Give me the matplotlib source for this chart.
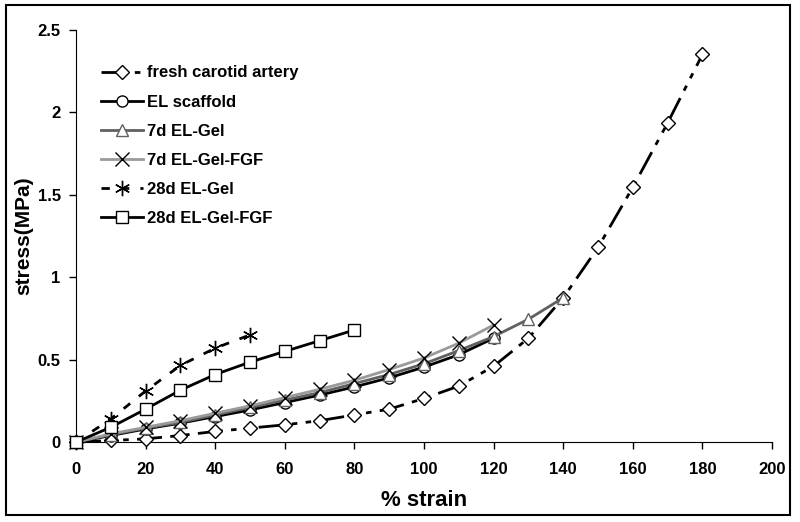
import numpy as np
import matplotlib
matplotlib.use("Agg")
import matplotlib.pyplot as plt
from matplotlib.patches import Rectangle

plt.rcParams['font.family'] = ['Liberation Sans', 'DejaVu Sans']
plt.rcParams['font.weight'] = 'bold'

# --- data ---
x_artery = np.arange(0, 190, 10)
y_artery = [0, 0.01, 0.02, 0.04, 0.065, 0.085, 0.105, 0.13, 0.165, 0.2,
            0.265, 0.34, 0.46, 0.63, 0.875, 1.18, 1.545, 1.935, 2.35]

x_el = np.arange(0, 130, 10)
y_el = [0, 0.04, 0.08, 0.115, 0.155, 0.195, 0.24, 0.285, 0.335, 0.39,
        0.455, 0.53, 0.63]

x_7d_gel = np.arange(0, 150, 10)
y_7d_gel = [0, 0.045, 0.085, 0.12, 0.165, 0.21, 0.255, 0.3, 0.355, 0.41,
            0.475, 0.555, 0.64, 0.745, 0.875]

x_7d_fgf = np.arange(0, 130, 10)
y_7d_fgf = [0, 0.05, 0.09, 0.13, 0.175, 0.22, 0.27, 0.32, 0.375, 0.44,
            0.51, 0.6, 0.71]

x_28d_gel = np.arange(0, 60, 10)
y_28d_gel = [0, 0.14, 0.31, 0.465, 0.57, 0.65]

x_28d_fgf = np.arange(0, 90, 10)
y_28d_fgf = [0, 0.09, 0.2, 0.315, 0.41, 0.485, 0.55, 0.615, 0.68]

fig = plt.figure(figsize=(8, 5.22), dpi=100)
ax = fig.add_axes([0.095, 0.153, 0.87, 0.79])

mk = dict(markersize=8, markerfacecolor='white', markeredgewidth=1.0, clip_on=False)

ax.plot(x_artery, y_artery, color='black', lw=2, marker='D', markersize=7.5,
        markerfacecolor='white', markeredgewidth=1.0, clip_on=False,
        dashes=(9, 3, 2, 3, 2, 3), label='fresh carotid artery', zorder=3)
ax.plot(x_el, y_el, color='black', lw=2, marker='o', label='EL scaffold',
        zorder=4, **mk)
ax.plot(x_7d_gel, y_7d_gel, color='#606060', lw=2, marker='^',
        label='7d EL-Gel', zorder=4, **mk)
ax.plot(x_7d_fgf, y_7d_fgf, color='#9a9a9a', lw=2, marker='x',
        markersize=10, markeredgewidth=1.0, markeredgecolor='black',
        label='7d EL-Gel-FGF', zorder=4, clip_on=False)
ax.plot(x_28d_gel, y_28d_gel, color='black', lw=2, ls=(0, (3, 4)),
        marker=(6, 2, 0), markersize=11, markeredgewidth=1.0,
        label='28d EL-Gel', zorder=4, clip_on=False)
ax.plot(x_28d_fgf, y_28d_fgf, color='black', lw=2, marker='s',
        label='28d EL-Gel-FGF', zorder=4, **mk)

ax.set_xlim(0, 200)
ax.set_ylim(0, 2.5)
ax.set_xticks(np.arange(0, 201, 20))
ax.set_yticks([0, 0.5, 1, 1.5, 2, 2.5])
ax.set_yticklabels(['0', '0.5', '1', '1.5', '2', '2.5'])
ax.tick_params(direction='out', length=5, width=1, labelsize=12)
ax.tick_params(axis='x', pad=9)
ax.tick_params(axis='y', pad=6)
for lab in ax.get_xticklabels() + ax.get_yticklabels():
    lab.set_fontweight('bold')
ax.spines['top'].set_visible(False)
ax.spines['right'].set_visible(False)

ax.set_xlabel('% strain', fontsize=16, fontweight='bold', labelpad=10)
ax.set_ylabel('stress(MPa)', fontsize=15, fontweight='bold', labelpad=3)

leg = ax.legend(loc='upper left', bbox_to_anchor=(0.015, 0.95), frameon=False,
                prop={'size': 12, 'weight': 'bold'}, handlelength=2.5,
                labelspacing=0.85, handletextpad=0.25)

fig.patches.append(Rectangle((0.007, 0.013), 0.981, 0.977, transform=fig.transFigure,
                             fill=False, edgecolor='black', lw=1.5))

fig.savefig('out.png', dpi=100)
